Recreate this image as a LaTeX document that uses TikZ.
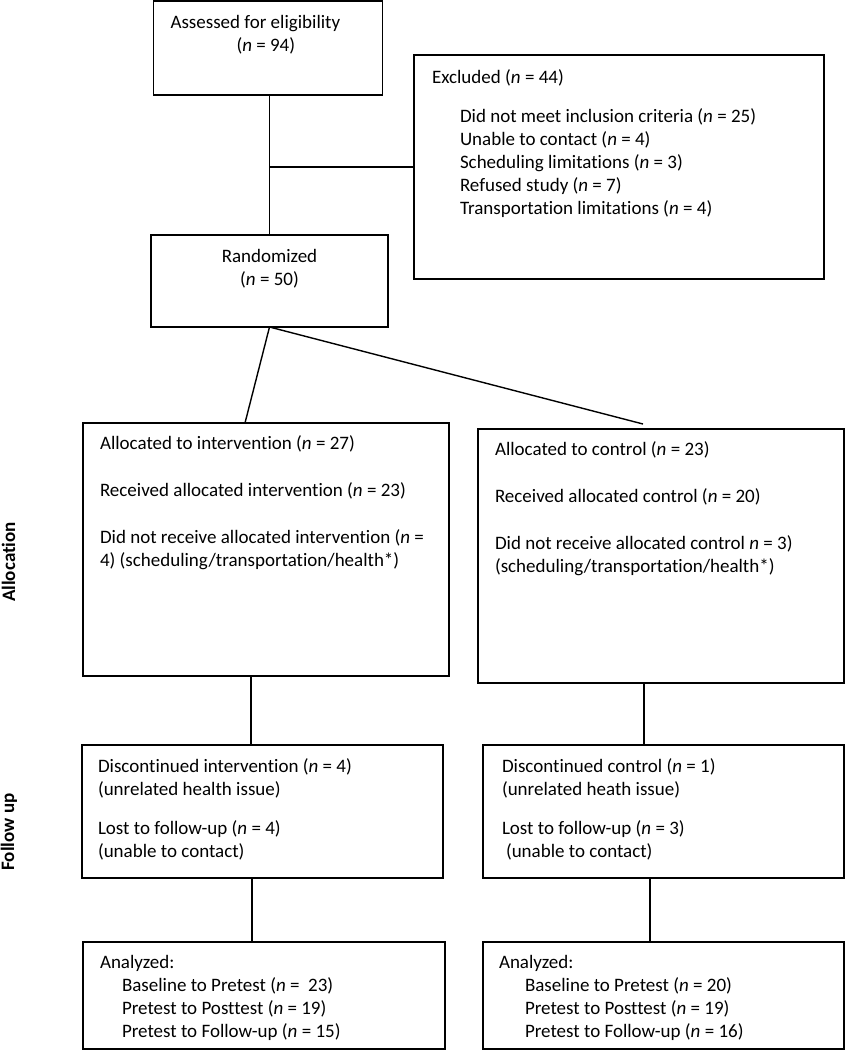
\documentclass[tikz,border=0pt]{standalone}
\usepackage{fontspec}
\setmainfont{Carlito}[Ligatures = NoCommon]
\usetikzlibrary{
    calc,
    positioning
}
\newcommand{\nn}{\textit{n}}
\newcommand{\boxtext}[3]{\parbox[c][#2][t]{#1}{\raggedright\strut #3}}
\tikzset{
    every picture/.style = {
        line width = 1.4pt,
        x = 1pt,
        y = -1pt
    },
    every node/.style = {
        font = \fontsize{19}{23}\selectfont,
        outer sep = 0pt
    },
    flowbox/.style = {
        draw,
        inner xsep = 17pt,
        inner ysep = 10pt
    },
    phase/.style = {
        rotate = 90,
        anchor = base,
        inner sep = 0pt,
        font = \fontsize{19}{23}\selectfont\bfseries
    }
}

\begin{document}
\begin{tikzpicture}
    \useasboundingbox (0,0) rectangle (846,1050);

    % enrolment
    \node[flowbox, inner ysep = 11pt] (assess) at (268, 48)
        {\boxtext{195pt}{72pt}{Assessed for eligibility\\\hspace*{66pt}(\nn{} = 94)}};
    \node[flowbox, inner xsep = 18pt, inner ysep = 12pt] (excl) at (619, 167)
        {\boxtext{374pt}{200pt}{Excluded (\nn{} = 44)\\[16pt]
        \hspace*{28pt}Did not meet inclusion criteria (\nn{} = 25)\\
        \hspace*{28pt}Unable to contact (\nn{} = 4)\\
        \hspace*{28pt}Scheduling limitations (\nn{} = 3)\\
        \hspace*{28pt}Refused study (\nn{} = 7)\\
        \hspace*{28pt}Transportation limitations (\nn{} = 4)}};
    \node[flowbox, inner ysep = 11pt] (rand) at (269.5, 281)
        {\boxtext{203pt}{70pt}{\centering Randomized\\(\nn{} = 50)}};

    % allocation
    \node[flowbox] (alloc1) at (266, 549.5)
        {\boxtext{332pt}{233pt}{Allocated to intervention (\nn{} = 27)\\[24pt]
        Received allocated intervention (\nn{} = 23)\\[24pt]
        Did not receive allocated intervention (\nn{} =\\
        4) (scheduling/transportation/health*)}};
    \node[flowbox] (alloc2) at (661, 556)
        {\boxtext{332pt}{234pt}{Allocated to control (\nn{} = 23)\\[24pt]
        Received allocated control (\nn{} = 20)\\[24pt]
        Did not receive allocated control \nn{} = 3)\\
        (scheduling/transportation/health*)}};

    % follow up
    \node[flowbox, inner xsep = 16pt, inner ysep = 11pt] (fu1) at (262.5, 811.5)
        {\boxtext{329pt}{111pt}{Discontinued intervention (\nn{} = 4)\\
        (unrelated health issue)\\[16pt]
        Lost to follow-up (\nn{} = 4)\\
        (unable to contact)}};
    \node[flowbox, inner xsep = 19pt, inner ysep = 11pt] (fu2) at (663.5, 811.5)
        {\boxtext{323pt}{111pt}{Discontinued control (\nn{} = 1)\\
        (unrelated heath issue)\\[16pt]
        Lost to follow-up (\nn{} = 3)\\
        \hspace*{4pt}(unable to contact)}};

    % analysis
    \node[flowbox] (an1) at (264, 995.5)
        {\boxtext{328pt}{87pt}{Analyzed:\\
        \hspace*{22pt}Baseline to Pretest (\nn{} = \ 23)\\
        \hspace*{22pt}Pretest to Posttest (\nn{} = 19)\\
        \hspace*{22pt}Pretest to Follow-up (\nn{} = 15)}};
    \node[flowbox, inner xsep = 16pt] (an2) at (663.5, 995.5)
        {\boxtext{329pt}{87pt}{Analyzed:\\
        \hspace*{26pt}Baseline to Pretest (\nn{} = 20)\\
        \hspace*{26pt}Pretest to Posttest (\nn{} = 19)\\
        \hspace*{26pt}Pretest to Follow-up (\nn{} = 16)}};

    % phase labels
    \node[phase] (allocation) at (15, 562) {Allocation};
    \node[phase] (followup) at (14, 832) {Follow up};

    % connectors
    \coordinate (arm1) at ([xshift = -21pt]alloc1.north);
    \coordinate (arm2) at ([xshift = -18pt, yshift = 5pt]alloc2.north);
    \coordinate (drop1) at ([xshift = -15pt]alloc1.south);
    \coordinate (drop2) at ([xshift = -17pt]alloc2.south);
    \coordinate (drop3) at ([xshift = -10.5pt]fu1.south);
    \coordinate (drop4) at ([xshift = -13.5pt]fu2.south);

    \path (rand.north) edge (rand.north |- assess.south);
    \path (rand.north |- excl.west) edge (excl.west);
    \path (rand.south) edge (arm1);
    \path (rand.south) edge (arm2);
    \path (drop1) edge (drop1 |- fu1.north);
    \path (drop2) edge (drop2 |- fu2.north);
    \path (drop3) edge (drop3 |- an1.north);
    \path (drop4) edge (drop4 |- an2.north);
\end{tikzpicture}
\end{document}
